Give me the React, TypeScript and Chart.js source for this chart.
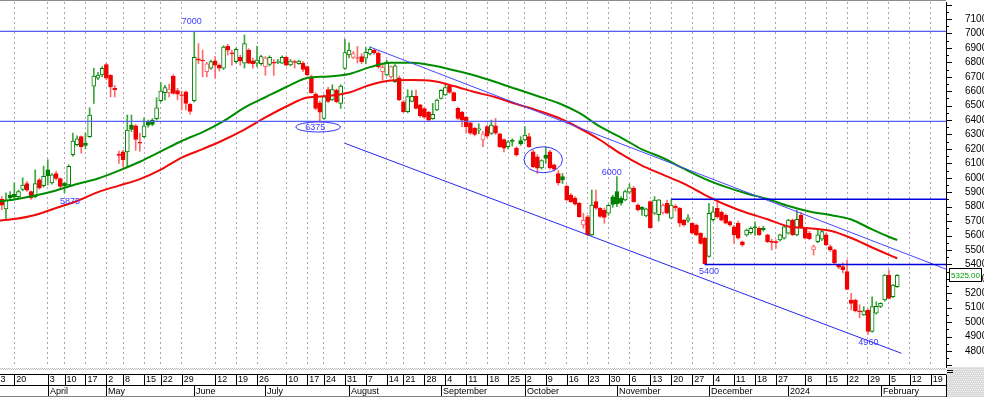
import React, { useEffect, useRef } from 'react';
import { Chart, registerables } from 'chart.js';

Chart.register(...registerables);

// ---------- calendar ----------
const START_DATE = '2023-03-13';
const FIRST_CANDLE_DATE = '2023-03-15';
const LAST_DATA_DATE = '2024-02-07';
const AXIS_END_DATE = '2024-02-23';
const HOLIDAYS = [
  '2023-03-22', '2023-03-23', '2023-04-07', '2023-04-19', '2023-04-20', '2023-04-21',
  '2023-04-24', '2023-04-25', '2023-05-01', '2023-05-18', '2023-06-01', '2023-06-02',
  '2023-06-28', '2023-06-29', '2023-06-30', '2023-07-19', '2023-08-17', '2023-09-28',
  '2023-12-25', '2023-12-26', '2024-01-01',
];
const MONTH_NAMES = ['January', 'February', 'March', 'April', 'May', 'June', 'July',
  'August', 'September', 'October', 'November', 'December'];

// ---------- daily prices (from 2023-03-15 to 2024-02-07) ----------
const OPEN = [
  5850, 5785, 5880, 5885, 5870, 5920, 5960, 5905, 5870, 5985,
  5945, 6055, 5965, 6030, 5995, 5962, 5950, 6160, 6230, 6285,
  6240, 6285, 6635, 6690, 6712, 6785, 6710, 6620, 6165, 6180,
  6180, 6365, 6360, 6245, 6285, 6390, 6400, 6410, 6535, 6590,
  6590, 6705, 6605, 6575, 6595, 6510, 6535, 6825, 6815, 6735,
  6760, 6810, 6780, 6760, 6910, 6865, 6805, 6835, 6795, 6885,
  6810, 6795, 6790, 6770, 6785, 6800, 6800, 6795, 6835, 6782,
  6805, 6790, 6795, 6770, 6700, 6580, 6520, 6412, 6612, 6540,
  6608, 6516, 6758, 6851, 6834, 6832, 6840, 6828, 6858, 6885,
  6862, 6735, 6712, 6700, 6666, 6690, 6527, 6458, 6530, 6565,
  6505, 6480, 6455, 6410, 6470, 6550, 6575, 6636, 6590, 6481,
  6455, 6420, 6380, 6345, 6330, 6262, 6355, 6308, 6360, 6305,
  6265, 6215, 6260, 6205, 6258, 6262, 6285, 6180, 6145, 6068,
  6158, 6180, 6089, 6030, 6008, 5940, 5880, 5860, 5823, 5673,
  5730, 5605, 5835, 5788, 5775, 5755, 5868, 5905, 5858, 5846,
  5900, 5928, 5811, 5795, 5735, 5835, 5754, 5745, 5760, 5823,
  5720, 5802, 5788, 5707, 5705, 5685, 5673, 5615, 5580, 5455,
  5710, 5788, 5760, 5742, 5696, 5660, 5685, 5557, 5604, 5620,
  5660, 5650, 5652, 5604, 5560, 5558, 5569, 5581, 5616, 5707,
  5604, 5742, 5650, 5616, 5500, 5557, 5575, 5604, 5523, 5500,
  5396, 5384, 5350, 5153, 5153, 5078, 5050, 5084, 4935, 5062,
  5108, 5153, 5326, 5176, 5245,
];
const HIGH = [
  5870, 5895, 5905, 5965, 5915, 6000, 5975, 5910, 6055, 5995,
  6080, 6125, 6030, 6045, 6000, 5970, 6090, 6310, 6290, 6290,
  6310, 6485, 6760, 6730, 6770, 6793, 6715, 6640, 6185, 6190,
  6435, 6435, 6370, 6310, 6415, 6400, 6410, 6555, 6660, 6640,
  6650, 6715, 6620, 6600, 6600, 6515, 7010, 6930, 6885, 6800,
  6815, 6840, 6790, 6915, 6925, 6885, 6900, 6850, 6990, 6895,
  6830, 6910, 6850, 6840, 6845, 6820, 6820, 6845, 6845, 6820,
  6815, 6815, 6805, 6775, 6712, 6590, 6530, 6575, 6627, 6645,
  6615, 6645, 6960, 6935, 6875, 6910, 6860, 6905, 6908, 6895,
  6875, 6795, 6816, 6775, 6785, 6705, 6535, 6610, 6605, 6608,
  6510, 6490, 6460, 6515, 6545, 6612, 6643, 6642, 6595, 6490,
  6460, 6425, 6390, 6350, 6375, 6320, 6365, 6400, 6412, 6310,
  6270, 6260, 6270, 6215, 6285, 6355, 6308, 6190, 6160, 6125,
  6215, 6190, 6095, 6050, 6030, 5950, 5890, 5870, 5830, 5755,
  5740, 5915, 5915, 5795, 5790, 5815, 5880, 6008, 5870, 5915,
  5957, 5940, 5820, 5800, 5790, 5840, 5870, 5850, 5820, 5846,
  5850, 5815, 5795, 5712, 5745, 5690, 5680, 5620, 5590, 5823,
  5800, 5835, 5770, 5750, 5700, 5670, 5700, 5562, 5645, 5660,
  5695, 5660, 5665, 5610, 5575, 5570, 5610, 5665, 5712, 5715,
  5777, 5760, 5655, 5630, 5534, 5638, 5640, 5615, 5535, 5505,
  5400, 5410, 5432, 5200, 5160, 5120, 5107, 5090, 5176, 5141,
  5135, 5330, 5362, 5262, 5330,
];
const LOW = [
  5780, 5705, 5845, 5850, 5860, 5910, 5905, 5850, 5860, 5920,
  5935, 5950, 5955, 5985, 5930, 5895, 5945, 6150, 6220, 6170,
  6200, 6280, 6515, 6680, 6700, 6680, 6560, 6560, 6100, 6075,
  6080, 6320, 6190, 6185, 6280, 6350, 6360, 6400, 6525, 6540,
  6560, 6580, 6540, 6470, 6470, 6440, 6525, 6790, 6700, 6700,
  6750, 6690, 6740, 6750, 6850, 6780, 6795, 6780, 6760, 6790,
  6760, 6770, 6780, 6710, 6775, 6710, 6790, 6790, 6775, 6775,
  6760, 6785, 6735, 6705, 6585, 6470, 6390, 6405, 6520, 6535,
  6520, 6480, 6750, 6830, 6825, 6795, 6790, 6790, 6850, 6855,
  6758, 6677, 6705, 6690, 6660, 6535, 6450, 6450, 6525, 6478,
  6420, 6410, 6390, 6405, 6465, 6545, 6570, 6585, 6530, 6405,
  6355, 6310, 6300, 6290, 6305, 6215, 6280, 6300, 6300, 6210,
  6180, 6200, 6220, 6150, 6225, 6255, 6210, 6070, 6030, 6060,
  6100, 6060, 6045, 5950, 5960, 5840, 5830, 5810, 5725, 5650,
  5600, 5600, 5780, 5725, 5685, 5740, 5795, 5800, 5810, 5840,
  5890, 5830, 5770, 5740, 5730, 5650, 5745, 5700, 5750, 5750,
  5715, 5770, 5662, 5665, 5690, 5610, 5598, 5540, 5400, 5450,
  5700, 5720, 5700, 5680, 5665, 5546, 5575, 5525, 5595, 5610,
  5600, 5600, 5630, 5550, 5500, 5510, 5560, 5575, 5610, 5600,
  5598, 5655, 5575, 5570, 5465, 5550, 5565, 5530, 5490, 5400,
  5370, 5340, 5225, 5085, 5070, 5030, 5045, 4915, 4930, 5055,
  5100, 5145, 5160, 5170, 5240,
];
const CLOSE = [
  5810, 5845, 5860, 5865, 5905, 5950, 5915, 5860, 5960, 5930,
  6010, 6015, 6020, 5995, 5940, 5945, 6080, 6255, 6270, 6215,
  6225, 6435, 6705, 6712, 6758, 6690, 6630, 6610, 6155, 6125,
  6330, 6335, 6265, 6240, 6360, 6365, 6370, 6485, 6600, 6625,
  6615, 6585, 6580, 6570, 6515, 6460, 6835, 6815, 6810, 6790,
  6805, 6780, 6760, 6905, 6885, 6860, 6890, 6810, 6930, 6795,
  6790, 6815, 6840, 6830, 6835, 6795, 6805, 6835, 6780, 6808,
  6800, 6808, 6750, 6712, 6590, 6480, 6455, 6562, 6530, 6612,
  6528, 6636, 6867, 6885, 6860, 6828, 6805, 6870, 6890, 6865,
  6770, 6765, 6804, 6770, 6775, 6540, 6458, 6562, 6565, 6481,
  6430, 6420, 6400, 6440, 6539, 6606, 6625, 6592, 6535, 6412,
  6400, 6355, 6310, 6300, 6340, 6305, 6288, 6366, 6310, 6215,
  6205, 6250, 6252, 6158, 6235, 6296, 6215, 6077, 6066, 6120,
  6135, 6068, 6060, 5965, 5985, 5846, 5835, 5818, 5730, 5705,
  5604, 5811, 5790, 5732, 5725, 5810, 5815, 5820, 5825, 5904,
  5930, 5835, 5777, 5780, 5785, 5655, 5846, 5848, 5810, 5755,
  5811, 5792, 5685, 5673, 5722, 5616, 5604, 5546, 5405, 5754,
  5765, 5730, 5707, 5686, 5673, 5604, 5582, 5534, 5638, 5650,
  5655, 5604, 5640, 5557, 5553, 5550, 5604, 5660, 5707, 5604,
  5712, 5661, 5581, 5578, 5523, 5604, 5628, 5534, 5500, 5410,
  5380, 5361, 5227, 5130, 5080, 5072, 5079, 4935, 5107, 5110,
  5130, 5326, 5165, 5257, 5325,
];

// ---------- moving averages, read at every 5th trading day ----------
const MA_DAY = [0, 5, 10, 15, 20, 25, 30, 35, 40, 45, 50, 55, 60, 65, 70, 75, 80, 85, 90, 95,
  100, 105, 110, 115, 120, 125, 130, 135, 140, 145, 150, 155, 160, 165, 170, 175, 180, 185,
  190, 195, 200, 205, 210, 215, 216];
const MA_RED = [5700, 5714, 5742, 5791, 5839, 5901, 5946, 5991, 6057, 6140, 6199, 6262, 6334,
  6418, 6494, 6556, 6567, 6591, 6643, 6674, 6677, 6670, 6636, 6594, 6558, 6511, 6467, 6416,
  6345, 6262, 6165, 6084, 6022, 5959, 5882, 5813, 5758, 5713, 5663, 5651, 5633, 5583, 5517,
  5454, 5442];
const MA_GREEN = [5832, 5850, 5877, 5912, 5957, 5995, 6050, 6111, 6183, 6255, 6317, 6393, 6486,
  6558, 6629, 6691, 6702, 6719, 6767, 6797, 6797, 6778, 6745, 6709, 6664, 6615, 6567, 6518,
  6449, 6354, 6279, 6197, 6137, 6063, 5993, 5937, 5891, 5853, 5804, 5766, 5742, 5711, 5642,
  5579, 5569];

// ---------- drawn studies ----------
const UPPER_TREND = [{ day: 90, value: 6906 }, { day: 228, value: 5363 }];
const LOWER_TREND = [{ day: 84, value: 6239 }, { day: 217, value: 4784 }];
const WIDE_LEVELS = [7015, 6391];
const SUPPORT_LEVELS = [{ from: 162, value: 5851 }, { from: 170, value: 5400 }];
const ELLIPSES = [
  { day: 77.6, value: 6352, halfDays: 5.3, halfValue: 35 },
  { day: 131.4, value: 6125, halfDays: 4.6, halfValue: 90 },
];
const NOTES = [
  { text: '7000', day: 47.4, value: 7081 },
  { text: '6375', day: 76.9, value: 6347 },
  { text: '5875', day: 18.3, value: 5836 },
  { text: '6000', day: 147.8, value: 6038 },
  { text: '5400', day: 171.0, value: 5354 },
  { text: '4960', day: 209.1, value: 4860 },
];

// ---------- view ----------
const X_MIN = 1.58;
const X_MAX = 227.65;
const Y_MIN = 4689;
const Y_MAX = 7218;

const FONT = '"Liberation Sans", Arial, sans-serif';
const GREEN = 'rgb(0,128,0)';
const GREEN_WICK = 'rgb(60,165,60)';
const RED = 'rgb(240,0,0)';
const RED_SOFT = 'rgb(255,105,105)';
const BLUE_NOTE = 'rgb(60,60,255)';

function buildDays() {
  const out = [];
  const t0 = Date.parse(START_DATE + 'T00:00:00Z');
  const t1 = Date.parse(AXIS_END_DATE + 'T00:00:00Z');
  for (let t = t0; t <= t1; t += 86400000) {
    const d = new Date(t);
    const dow = d.getUTCDay();
    if (dow === 0 || dow === 6) continue;
    const s = d.toISOString().slice(0, 10);
    if (s <= LAST_DATA_DATE && HOLIDAYS.includes(s)) continue;
    out.push(s);
  }
  return out;
}

function noPad(s) {
  s.paddingLeft = 0;
  s.paddingRight = 0;
  s.paddingTop = 0;
  s.paddingBottom = 0;
}

export default function App() {
  const ref = useRef(null);

  useEffect(() => {
    document.body.style.margin = '0';
    const days = buildDays();
    const off = days.indexOf(FIRST_CANDLE_DATE);

    const weekTicks = [];
    let prevWeek = -1;
    let lastTick = -100;
    days.forEach((s, i) => {
      const wk = Math.floor((Date.parse(s + 'T00:00:00Z') / 86400000 + 3) / 7);
      if (wk !== prevWeek) {
        if (i - lastTick > 3) { weekTicks.push(i); lastTick = i; }
        prevWeek = wk;
      }
    });
    const monthStarts = [];
    days.forEach((s, i) => {
      if (i > 0 && s.slice(5, 7) !== days[i - 1].slice(5, 7)) {
        const m = +s.slice(5, 7);
        monthStarts.push({ i, label: m === 1 ? s.slice(0, 4) : MONTH_NAMES[m - 1] });
      }
    });

    const bodyData = [], wickData = [], fills = [], borders = [], wicks = [];
    OPEN.forEach((o, i) => {
      const c = CLOSE[i];
      const prev = i > 0 ? CLOSE[i - 1] : o;
      const up = c >= prev;
      const hollow = c > o;
      bodyData.push({ x: off + i, y: [o, c] });
      wickData.push({ x: off + i, y: [LOW[i], HIGH[i]] });
      fills.push(hollow ? '#ffffff' : up ? GREEN : RED);
      borders.push(up ? GREEN : hollow ? RED_SOFT : RED);
      wicks.push(up ? GREEN_WICK : RED_SOFT);
    });

    const line = (data, color, width, order) => ({
      type: 'line', data, borderColor: color, borderWidth: width, pointRadius: 0,
      tension: 0, fill: false, order,
    });

    const datasets = [
      ...WIDE_LEVELS.map(v => line([{ x: 0, y: v }, { x: days.length, y: v }], 'rgb(85,95,245)', 1.2, 0)),
      ...SUPPORT_LEVELS.map(l => line([{ x: l.from, y: l.value }, { x: days.length, y: l.value }], 'rgb(0,0,225)', 1.5, 0)),
      line(UPPER_TREND.map(p => ({ x: p.day, y: p.value })), 'rgb(70,70,255)', 1, 0),
      line(LOWER_TREND.map(p => ({ x: p.day, y: p.value })), 'rgb(40,40,240)', 1, 0),
      {
        type: 'line', data: MA_DAY.map((d, i) => ({ x: d, y: MA_GREEN[i] })),
        borderColor: 'rgb(0,140,0)', borderWidth: 2, pointRadius: 0, tension: 0.4,
        cubicInterpolationMode: 'monotone', fill: false, order: 0,
      },
      {
        type: 'line', data: MA_DAY.map((d, i) => ({ x: d, y: MA_RED[i] })),
        borderColor: 'rgb(240,10,10)', borderWidth: 2, pointRadius: 0, tension: 0.4,
        cubicInterpolationMode: 'monotone', fill: false, order: 0,
      },
      {
        type: 'bar', data: bodyData, backgroundColor: fills, borderColor: borders,
        borderWidth: 1, borderSkipped: false, barThickness: 4, grouped: false, order: 1,
      },
      {
        type: 'bar', data: wickData, backgroundColor: wicks, borderWidth: 0,
        barThickness: 1, grouped: false, order: 2,
      },
    ];

    const decor = {
      id: 'decor',
      beforeDraw(chart) {
        const c = chart.ctx;
        c.save();
        c.fillStyle = '#ffffff';
        c.fillRect(0, 0, chart.width, chart.height);
        c.restore();
      },
      afterDatasetsDraw(chart) {
        const { ctx, chartArea: a, scales } = chart;
        const xs = scales.x, ys = scales.y;
        ctx.save();
        ctx.beginPath();
        ctx.rect(a.left, a.top, a.right - a.left, a.bottom - a.top);
        ctx.clip();
        ctx.strokeStyle = 'rgb(50,50,255)';
        ctx.lineWidth = 1;
        ELLIPSES.forEach(e => {
          const cx = xs.getPixelForValue(e.day);
          const cy = ys.getPixelForValue(e.value);
          const rx = Math.abs(xs.getPixelForValue(e.day + e.halfDays) - cx);
          const ry = Math.abs(ys.getPixelForValue(e.value + e.halfValue) - cy);
          ctx.beginPath();
          ctx.ellipse(cx, cy, rx, ry, 0, 0, Math.PI * 2);
          ctx.stroke();
        });
        ctx.fillStyle = BLUE_NOTE;
        ctx.font = '9px ' + FONT;
        ctx.textAlign = 'center';
        ctx.textBaseline = 'middle';
        NOTES.forEach(n => {
          ctx.fillText(n.text, xs.getPixelForValue(n.day), ys.getPixelForValue(n.value));
        });
        ctx.restore();
      },
      afterDraw(chart) {
        const { ctx, chartArea: a, scales } = chart;
        const xs = scales.x, ys = scales.y;
        const R = Math.round(a.right);
        const B = Math.round(a.bottom);
        const W = chart.width, H = chart.height;
        ctx.save();
        // top border
        ctx.fillStyle = '#8c8c8c';
        ctx.fillRect(0, 0, R, 1);
        // y-axis tick marks
        ctx.strokeStyle = '#000';
        ctx.lineWidth = 1;
        ctx.beginPath();
        ys.ticks.forEach(t => {
          const py = Math.round(ys.getPixelForValue(t.value)) + 0.5;
          ctx.moveTo(R, py);
          ctx.lineTo(R + (t.value % 100 === 0 ? 6 : 3), py);
        });
        ctx.stroke();
        // dotted strip under the plot
        ctx.fillStyle = '#b8b8b8';
        for (let px = 0; px < R; px += 2) {
          ctx.fillRect(px, B + 1, 1, 1);
          ctx.fillRect(px + 1, B + 2, 1, 1);
        }
        // date rows
        const r1 = B + 7.5, r2 = B + 18.5, r3 = H - 0.5;
        ctx.strokeStyle = '#000';
        ctx.beginPath();
        ctx.moveTo(0, r1); ctx.lineTo(R, r1);
        ctx.moveTo(0, r2); ctx.lineTo(R, r2);
        ctx.moveTo(R + 0.5, r1); ctx.lineTo(R + 0.5, H);
        xs.ticks.forEach(t => {
          const px = Math.round(xs.getPixelForValue(t.value)) + 0.5;
          ctx.moveTo(px, r1); ctx.lineTo(px, r2);
        });
        monthStarts.forEach(m => {
          const px = Math.round(xs.getPixelForValue(m.i)) + 0.5;
          ctx.moveTo(px, r2); ctx.lineTo(px, H);
        });
        ctx.stroke();
        ctx.strokeStyle = '#808080';
        ctx.beginPath();
        ctx.moveTo(0, r3); ctx.lineTo(R, r3);
        ctx.stroke();
        ctx.fillStyle = '#000';
        ctx.font = '9px ' + FONT;
        ctx.textAlign = 'left';
        ctx.textBaseline = 'middle';
        monthStarts.forEach(m => {
          const px = Math.round(xs.getPixelForValue(m.i));
          ctx.fillText(m.label, px + 2, r2 + 6);
        });
        // bottom-right corner
        ctx.fillStyle = '#d9d9d9';
        ctx.fillRect(R + 1, B, W - R - 1, H - B);
        ctx.fillStyle = '#f2f2f2';
        for (let py = B; py < H; py += 2) {
          for (let px = R + 1 + ((py - B) % 4 === 0 ? 0 : 1); px < W; px += 2) ctx.fillRect(px, py, 1, 1);
        }
        ctx.fillStyle = '#000';
        ctx.fillRect(R + 1, B + 3, 6, 1);
        ctx.fillRect(R + 1, B + 5, 6, 1);
        // last price box
        const last = CLOSE[CLOSE.length - 1];
        const py = Math.round(ys.getPixelForValue(last));
        ctx.fillStyle = '#ffffff';
        ctx.fillRect(R + 3, py - 6, 32, 12);
        ctx.strokeStyle = '#000';
        ctx.strokeRect(R + 3.5, py - 6.5, 32, 13);
        ctx.fillStyle = 'rgb(0,160,0)';
        ctx.font = '8px ' + FONT;
        ctx.textAlign = 'center';
        ctx.fillText(last.toFixed(2), R + 19.5, py + 0.5);
        ctx.restore();
      },
    };

    const chart = new Chart(ref.current, {
      type: 'bar',
      data: { datasets },
      options: {
        responsive: false,
        animation: false,
        events: [],
        devicePixelRatio: 1,
        layout: { padding: { top: 2, left: 0, right: 0, bottom: 0 } },
        plugins: { legend: { display: false }, tooltip: { enabled: false } },
        scales: {
          x: {
            type: 'linear',
            min: X_MIN,
            max: X_MAX,
            offset: false,
            afterBuildTicks: s => { s.ticks = weekTicks.map(v => ({ value: v })); },
            afterFit: s => { s.height = 30; noPad(s); },
            ticks: {
              autoSkip: false, maxRotation: 0, minRotation: 0, align: 'start', labelOffset: 2,
              padding: 7, color: '#000', font: { family: FONT, size: 9 },
              callback: v => String(+days[v].slice(8, 10)),
            },
            grid: { color: 'rgba(150,140,165,0.8)', lineWidth: 1, drawTicks: false, offset: false },
            border: { display: false, dash: [2, 3] },
          },
          y: {
            type: 'linear',
            position: 'right',
            min: Y_MIN,
            max: Y_MAX,
            afterBuildTicks: s => {
              const t = [];
              for (let v = 4700; v <= 7200; v += 50) t.push({ value: v });
              s.ticks = t;
            },
            afterFit: s => { s.width = 38; noPad(s); },
            ticks: {
              autoSkip: false, padding: 11, color: '#000', font: { family: FONT, size: 10 },
              callback: v => (v % 100 === 0 && v >= 4800 && v <= 7100 ? String(v) : ''),
            },
            grid: { display: false },
            border: { display: true, color: '#000', width: 1 },
          },
        },
      },
      plugins: [decor],
    });
    return () => chart.destroy();
  }, []);

  return (
    <div style={{ position: 'absolute', left: 0, top: 0, width: 984, height: 397 }}>
      <canvas ref={ref} width={984} height={397} style={{ display: 'block', width: 984, height: 397 }} />
    </div>
  );
}
